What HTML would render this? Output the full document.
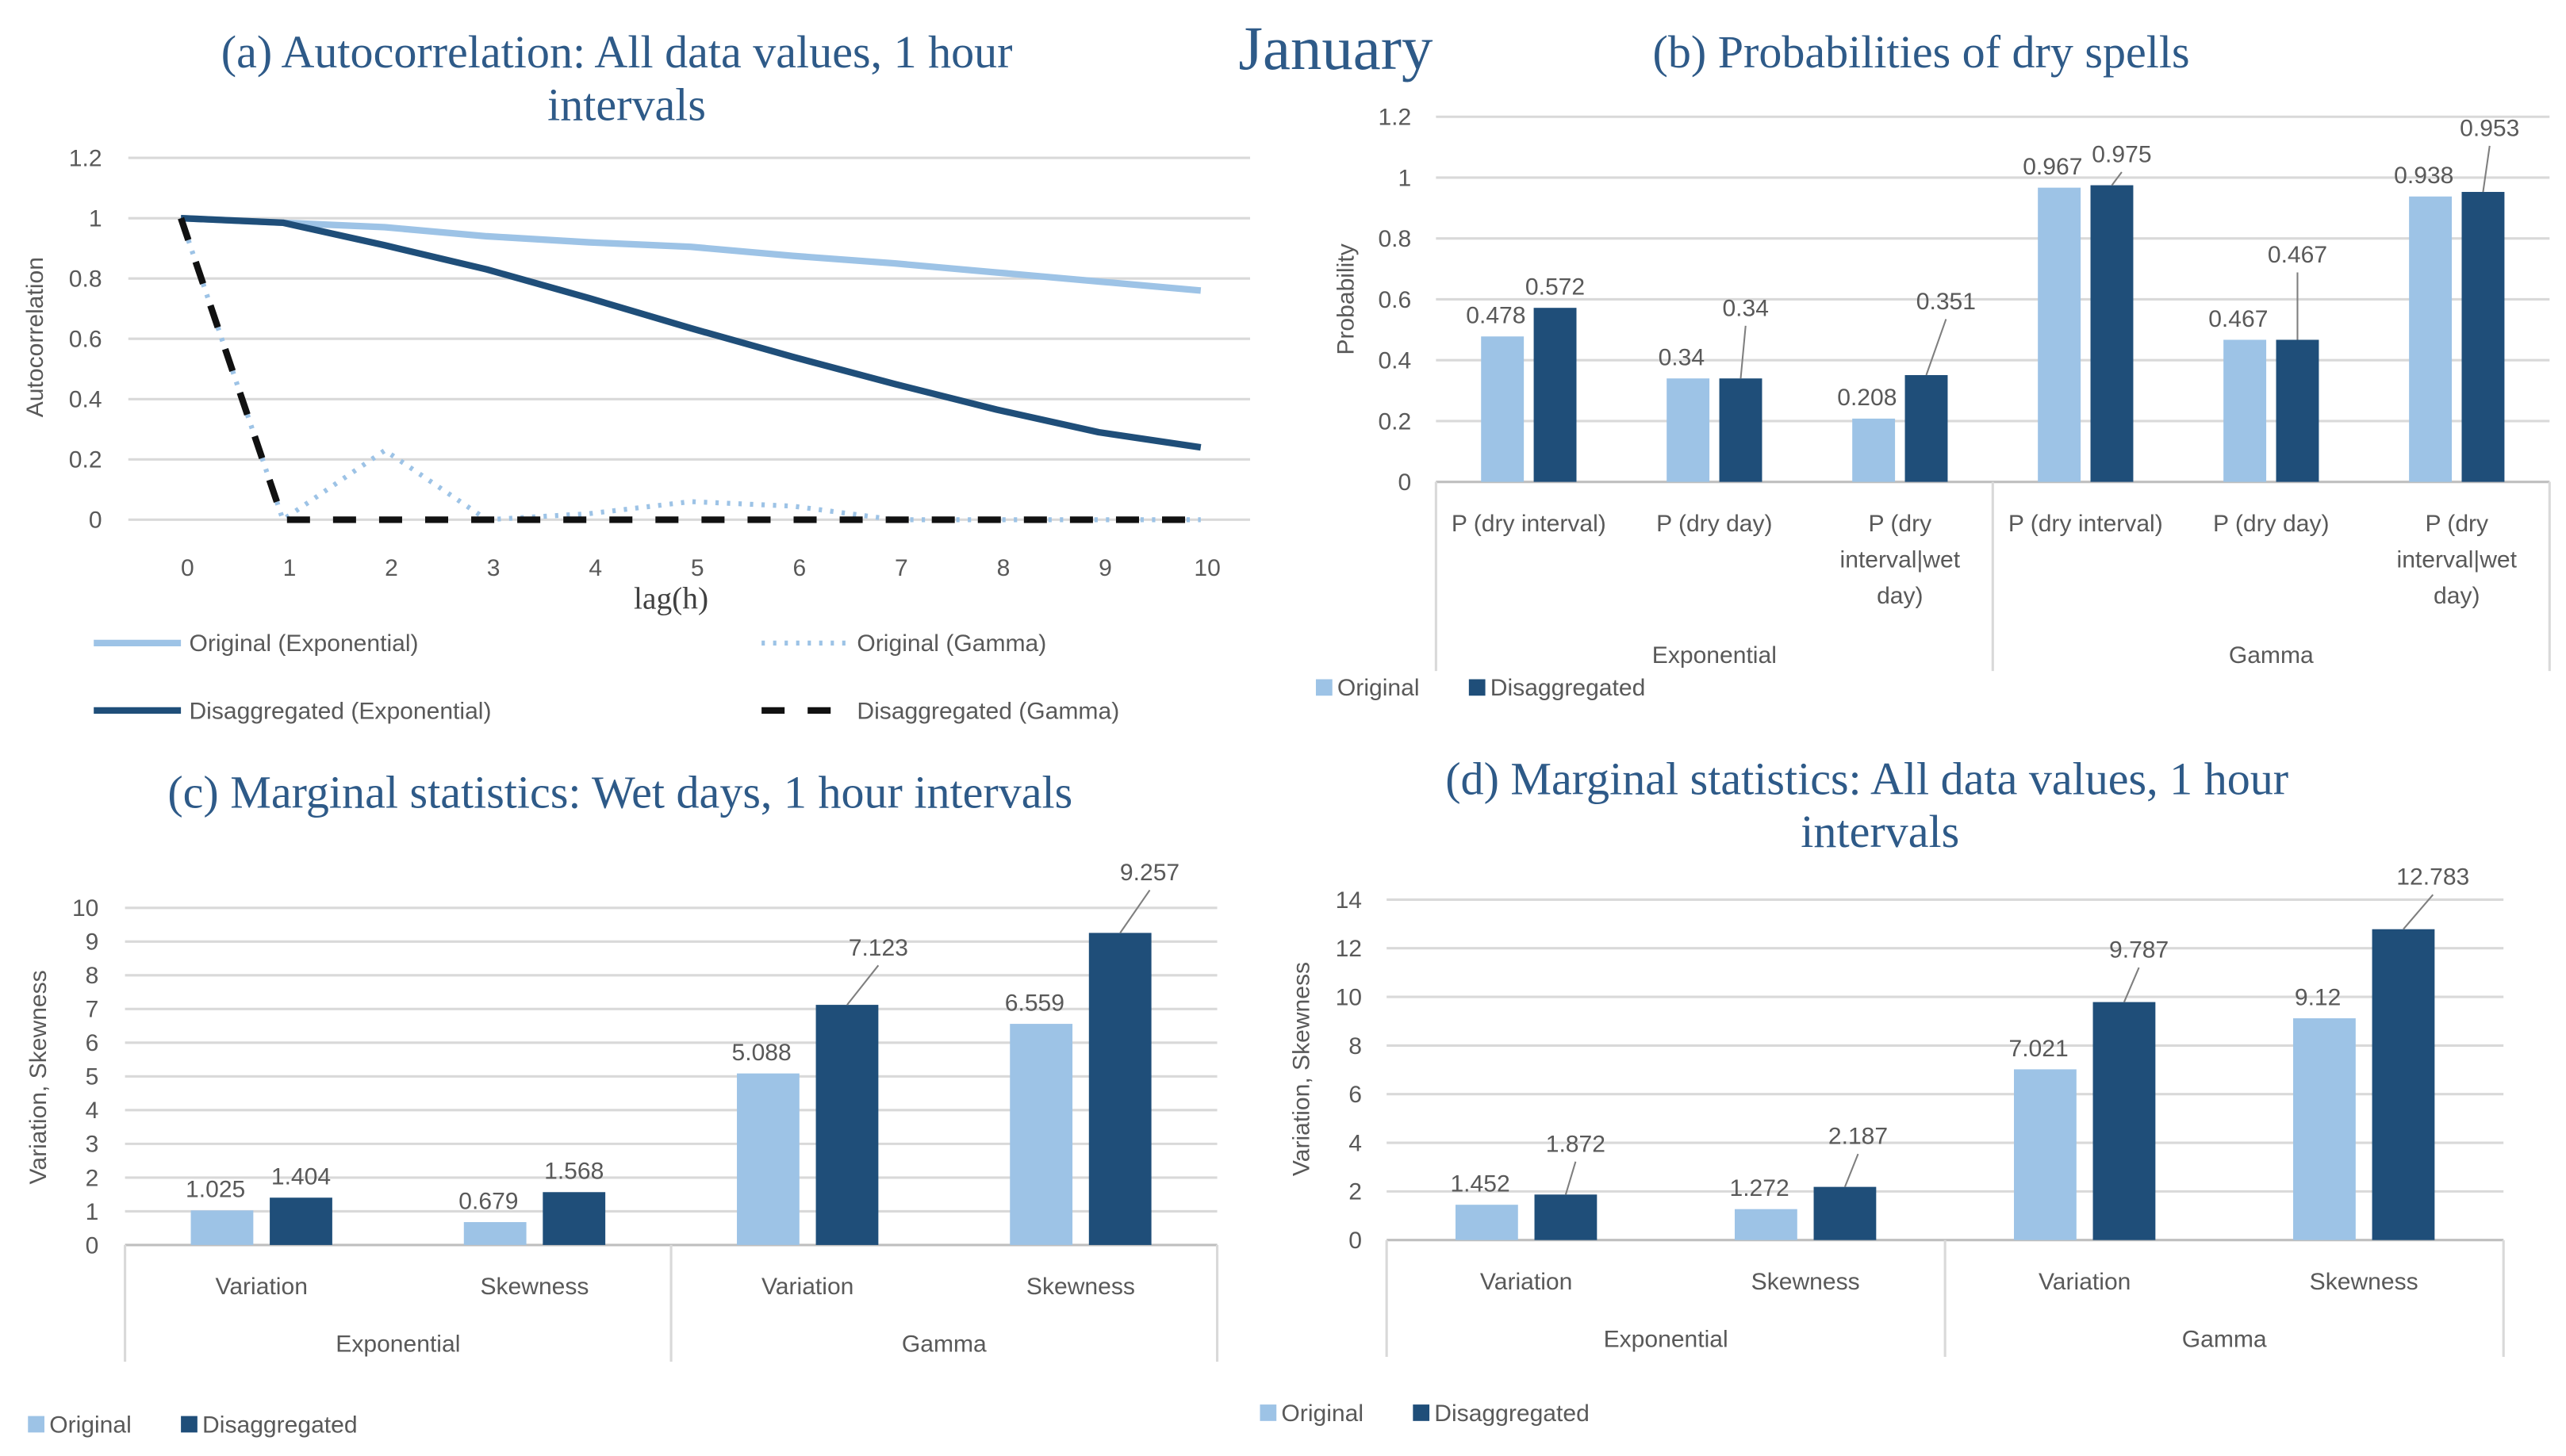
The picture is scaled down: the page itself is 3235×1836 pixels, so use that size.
<!DOCTYPE html>
<html><head><meta charset="utf-8">
<style>
html,body{margin:0;padding:0;background:#fff;}
svg{display:block;}
.t{font-family:"Liberation Serif",serif;fill:#2e5a88;}
.k{font-family:"Liberation Sans",sans-serif;fill:#595959;font-size:14.5px;}
</style></head>
<body>
<svg id="fig" width="3235" height="1836" viewBox="0 0 1560 885.3" preserveAspectRatio="none" xmlns="http://www.w3.org/2000/svg">
<text class="t" x="812" y="42" text-anchor="middle" font-size="38">January</text>
<text class="t" x="375" y="41" text-anchor="middle" font-size="28">(a) Autocorrelation: All data values, 1 hour</text>
<text class="t" x="381" y="73" text-anchor="middle" font-size="28">intervals</text>
<text class="t" x="1168" y="41" text-anchor="middle" font-size="28">(b) Probabilities of dry spells</text>
<text class="t" x="377" y="491" text-anchor="middle" font-size="28">(c) Marginal statistics: Wet days, 1 hour intervals</text>
<text class="t" x="1135" y="483" text-anchor="middle" font-size="28">(d) Marginal statistics: All data values, 1 hour</text>
<text class="t" x="1143" y="515" text-anchor="middle" font-size="28">intervals</text>
<g id="ga"></g>
<g id="gb"></g>
<g id="gc"></g>
<g id="gd"></g>
</svg>
<script>
// ---- Chart (a) data ----
const lags = [0,1,2,3,4,5,6,7,8,9,10];
const origExp = [1,0.985,0.97,0.94,0.92,0.905,0.875,0.85,0.82,0.79,0.76];
const disExp = [1,0.985,0.91,0.83,0.735,0.635,0.54,0.45,0.365,0.29,0.24];
const origGam = [1,0,0.23,0,0.02,0.06,0.045,0,0,0,0];
const disGam = [1,0,0,0,0,0,0,0,0,0,0];
const aTicks = [0,0.2,0.4,0.6,0.8,1,1.2];
// ---- Chart (b) data ----
const bCats = ["P (dry interval)","P (dry day)","P (dry|interval|wet|day)","P (dry interval)","P (dry day)","P (dry|interval|wet|day)"];
const bOrig = [0.478,0.34,0.208,0.967,0.467,0.938];
const bDis = [0.572,0.34,0.351,0.975,0.467,0.953];
const bTicks = [0,0.2,0.4,0.6,0.8,1,1.2];
// ---- Chart (c) data ----
const cCats = ["Variation","Skewness","Variation","Skewness"];
const cOrig = [1.025,0.679,5.088,6.559];
const cDis = [1.404,1.568,7.123,9.257];
const cTicks = [0,1,2,3,4,5,6,7,8,9,10];
// ---- Chart (d) data ----
const dCats = ["Variation","Skewness","Variation","Skewness"];
const dOrig = [1.452,1.272,7.021,9.12];
const dDis = [1.872,2.187,9.787,12.783];
const dTicks = [0,2,4,6,8,10,12,14];
const groups = ["Exponential","Gamma"];

const NS="http://www.w3.org/2000/svg";
const LIGHT="#9dc3e6", DARK="#1f4e79";
function mk(parent,tag,attrs,text){const e=document.createElementNS(NS,tag);for(const k in attrs)e.setAttribute(k,attrs[k]);if(text!==undefined)e.textContent=text;parent.appendChild(e);return e;}

// ---- (a) ----
(function(){
  const g=document.getElementById('ga');
  const x0=110,x1=730,y0=316,y1=96,left=78,right=760;
  const xs=v=>x0+(v-lags[0])/(lags[lags.length-1]-lags[0])*(x1-x0);
  const ys=v=>y0-(v/1.2)*(y0-y1);
  aTicks.forEach(t=>{
    const l=mk(g,'line',{x1:left,x2:right,y1:ys(t),y2:ys(t),stroke:'#d9d9d9','stroke-width':1.5});
    
    
    const tx=mk(g,'text',{x:62,y:ys(t)+5,'text-anchor':'end',class:'k'},String(t));
    
    
  });
  lags.forEach(v=>{
    const tx=mk(g,'text',{x:xs(v)+4,y:350,'text-anchor':'middle',class:'k'},String(v));
    
    
  });
  const xt=mk(g,'text',{x:408,y:370,'text-anchor':'middle','font-family':'Liberation Serif, serif','font-size':19,fill:'#404040'},'lag(h)');
  
  
  const yt=mk(g,'text',{transform:'translate(26,205) rotate(-90)','text-anchor':'middle',class:'k','font-size':16},'Autocorrelation');
  
  
  const series=[[origExp,LIGHT,4,'',"series-original-exponential"],[disExp,DARK,4,'',"series-disaggregated-exponential"],[origGam,LIGHT,3,'2 5',"series-original-gamma"],[disGam,'#111',4,'14 14',"series-disaggregated-gamma"]];
  series.forEach(s=>{
    const d=s[0].map((v,i)=>(i?'L':'M')+xs(lags[i])+','+ys(v)).join(' ');
    const p=mk(g,'path',{d:d,fill:'none',stroke:s[1],'stroke-width':s[2],'stroke-dasharray':s[3],'stroke-linejoin':'round'});
    
    
  });
  const leg=[[57,391,LIGHT,4,'','Original (Exponential)'],[463,391,LIGHT,3,'2 5','Original (Gamma)'],[57,432,DARK,4,'','Disaggregated (Exponential)'],[463,432,'#111',4,'14 14','Disaggregated (Gamma)']];
  leg.forEach(l=>{
    const gg=mk(g,'g',{});
    
    
    mk(gg,'line',{x1:l[0],x2:l[0]+53,y1:l[1],y2:l[1],stroke:l[2],'stroke-width':l[3],'stroke-dasharray':l[4]});
    mk(gg,'text',{x:l[0]+58,y:l[1]+5,class:'k'},l[5]);
  });
})();

// ---- generic bar chart ----
function bars(g,cfg){
  const {left,right,y0,ymax,yTop,cats,orig,dis,ticks,bw,gap,tickX,catY,grpY,axisBottom,legX,legY,ytitle,ytX,ytY,lead}=cfg;
  const ys=v=>y0-(v/ymax)*(y0-yTop);
  const band=(right-left)/cats.length;
  ticks.forEach(t=>{
    const l=mk(g,'line',{x1:left,x2:right,y1:ys(t),y2:ys(t),stroke:t===0?'#bfbfbf':'#d9d9d9','stroke-width':1.5});
    
    
    const tx=mk(g,'text',{x:tickX,y:ys(t)+5,'text-anchor':'end',class:'k'},String(t));
    
    
  });
  [0,cats.length/2,cats.length].forEach(i=>{
    const l=mk(g,'line',{x1:left+i*band,x2:left+i*band,y1:y0,y2:axisBottom,stroke:'#d9d9d9','stroke-width':1.5});
    
    
  });
  cats.forEach((c,i)=>{
    const cx=left+band*(i+0.5);
    const lines=c.indexOf('|')>=0?["P (dry","interval|wet","day)"]:[c];
    lines.forEach((ln,j)=>{
      const tx=mk(g,'text',{x:cx,y:catY+j*22,'text-anchor':'middle',class:'k'},ln);
      
      
    });
    const xo=cx-gap/2-bw, xd=cx+gap/2;
    const r1=mk(g,'rect',{x:xo,y:ys(orig[i]),width:bw,height:y0-ys(orig[i]),fill:LIGHT});
    
    
    const r2=mk(g,'rect',{x:xd,y:ys(dis[i]),width:bw,height:y0-ys(dis[i]),fill:DARK});
    
    
    const l1=mk(g,'text',{x:xo+bw/2-4,y:ys(orig[i])-8,'text-anchor':'middle',class:'k'},String(orig[i]));
    
    
    let lx=xd+bw/2, ly=ys(dis[i])-8;
    if(lead[i]){
      const ex=lx+lead[i][0], ey=ys(dis[i])-lead[i][1];
      mk(g,'line',{x1:lx,y1:ys(dis[i]),x2:ex,y2:ey+4,stroke:'#7f7f7f','stroke-width':1});
      lx=ex; ly=ey-2;
    }
    const l2=mk(g,'text',{x:lx,y:ly,'text-anchor':'middle',class:'k'},String(dis[i]));
    
    
  });
  groups.forEach((gname,i)=>{
    const tx=mk(g,'text',{x:left+(right-left)*(i*2+1)/4,y:grpY,'text-anchor':'middle',class:'k'},gname);
    
    
  });
  const yt=mk(g,'text',{transform:`translate(${ytX},${ytY}) rotate(-90)`,'text-anchor':'middle',class:'k','font-size':16},ytitle);
  
  
  [[legX,LIGHT,'Original'],[legX+93,DARK,'Disaggregated']].forEach(l=>{
    const gg=mk(g,'g',{});
    
    
    mk(gg,'rect',{x:l[0],y:legY-10,width:10,height:10,fill:l[1]});
    mk(gg,'text',{x:l[0]+13,y:legY,class:'k'},l[2]);
  });
}
bars(document.getElementById('gb'),{left:873,right:1550,y0:293,ymax:1.2,yTop:71,cats:bCats,orig:bOrig,dis:bDis,ticks:bTicks,bw:26,gap:6,tickX:858,catY:323,grpY:403,axisBottom:408,legX:800,legY:423,ytitle:'Probability',ytX:823,ytY:182,lead:[null,[3,36],[12,38],[6,12],[0,45],[4,32]]});
bars(document.getElementById('gc'),{left:76,right:740,y0:757,ymax:10,yTop:552,cats:cCats,orig:cOrig,dis:cDis,ticks:cTicks,bw:38,gap:10,tickX:60,catY:787,grpY:822,axisBottom:828,legX:17,legY:871,ytitle:'Variation, Skewness',ytX:28,ytY:655,lead:[null,null,[19,28],[18,30]]});
bars(document.getElementById('gd'),{left:843,right:1522,y0:754,ymax:14,yTop:547,cats:dCats,orig:dOrig,dis:dDis,ticks:dTicks,bw:38,gap:10,tickX:828,catY:784,grpY:819,axisBottom:825,legX:766,legY:864,ytitle:'Variation, Skewness',ytX:796,ytY:650,lead:[[6,24],[8,24],[9,25],[18,25]]});
</script>
</body></html>
